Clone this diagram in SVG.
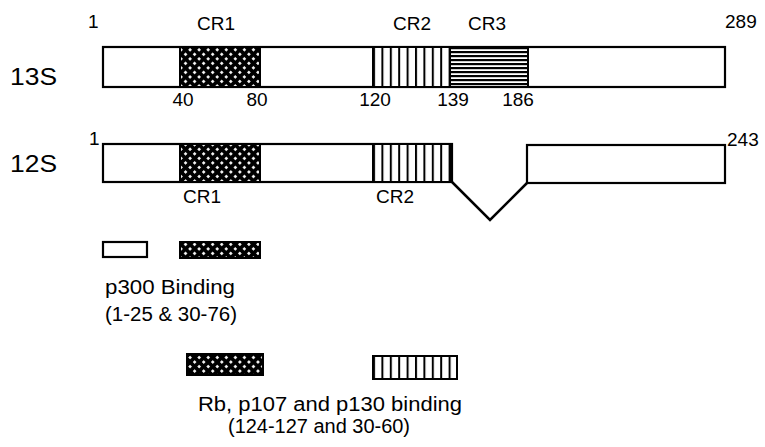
<svg xmlns="http://www.w3.org/2000/svg" width="765" height="447" viewBox="0 0 765 447">
<defs>
<pattern id="xh" width="6.4" height="6.4" patternUnits="userSpaceOnUse" patternTransform="rotate(45)">
<rect width="6.4" height="6.4" fill="#000"/>
<rect x="1.9" y="1.9" width="2.6" height="2.6" fill="#fff"/>
</pattern>
<pattern id="vs" x="373" y="0" width="8.4" height="10" patternUnits="userSpaceOnUse">
<rect width="8.4" height="10" fill="#fff"/>
<rect x="0" width="2" height="10" fill="#000"/>
</pattern>
<pattern id="hs" x="0" y="47" width="10" height="4" patternUnits="userSpaceOnUse">
<rect width="10" height="4" fill="#fff"/>
<rect y="0" width="10" height="2.2" fill="#000"/>
</pattern>
</defs>
<style>
text{font-family:"Liberation Sans",Arial,sans-serif;fill:#000}
.lbl{font-size:24px}
.num{font-size:19px}
.cr{font-size:19px}
.leg{font-size:20px}
.m{text-anchor:middle}
.box{stroke:#000;stroke-width:2.2;fill:#fff}
.ln{stroke:#000;stroke-width:2.5;fill:none}
</style>
<rect width="765" height="447" fill="#fff"/>

<g id="node-13S">
<text class="lbl" x="10" y="85" textLength="47" lengthAdjust="spacingAndGlyphs">13S</text>
<rect class="box" x="103" y="47" width="622" height="40"/>
<rect x="180" y="47" width="80" height="40" fill="url(#xh)" stroke="#000" stroke-width="2"/>
<rect x="373" y="47" width="77" height="40" fill="url(#vs)" stroke="#000" stroke-width="2"/>
<rect x="450" y="47" width="78" height="40" fill="url(#hs)" stroke="#000" stroke-width="2"/>
<text class="num" x="88" y="28">1</text>
<text class="cr m" x="216" y="30">CR1</text>
<text class="cr m" x="412" y="30">CR2</text>
<text class="cr m" x="487" y="30">CR3</text>
<text class="num" x="725" y="28">289</text>
<text class="num m" x="183" y="106">40</text>
<text class="num m" x="257" y="106">80</text>
<text class="num m" x="375" y="106">120</text>
<text class="num m" x="453" y="106">139</text>
<text class="num m" x="518" y="106">186</text>
</g>

<g id="node-12S">
<text class="lbl" x="10" y="172" textLength="47" lengthAdjust="spacingAndGlyphs">12S</text>
<rect class="box" x="103" y="144" width="349" height="38"/>
<rect x="180" y="144" width="80" height="38" fill="url(#xh)" stroke="#000" stroke-width="2"/>
<rect x="373" y="144" width="79" height="38" fill="url(#vs)" stroke="#000" stroke-width="2"/>
<line x1="451" y1="144" x2="451" y2="182" stroke="#000" stroke-width="3"/>
<rect class="box" x="527" y="145" width="198" height="38"/>
<text class="num" x="89" y="145">1</text>
<text class="num" x="727" y="146">243</text>
<text class="cr m" x="202" y="203">CR1</text>
<text class="cr m" x="395" y="203">CR2</text>
</g>

<g id="connectors">
<polyline class="ln" points="452,182 490,220 527,183"/>
</g>

<g id="legend-p300">
<rect class="box" x="103" y="242" width="44" height="15"/>
<rect x="180" y="242" width="80" height="16" fill="url(#xh)" stroke="#000" stroke-width="2"/>
<text class="leg" x="105" y="294" textLength="130" lengthAdjust="spacingAndGlyphs">p300  Binding</text>
<text class="leg" x="105" y="321" textLength="132" lengthAdjust="spacingAndGlyphs">(1-25 &amp; 30-76)</text>
</g>

<g id="legend-rb">
<rect x="187" y="354" width="76" height="21" fill="url(#xh)" stroke="#000" stroke-width="2"/>
<rect x="373" y="356" width="84" height="23" fill="url(#vs)" stroke="#000" stroke-width="2"/>
<text class="leg" x="198" y="411" textLength="264" lengthAdjust="spacingAndGlyphs">Rb, p107 and p130 binding</text>
<text class="leg" x="228" y="433" textLength="182" lengthAdjust="spacingAndGlyphs">(124-127 and 30-60)</text>
</g>
</svg>
